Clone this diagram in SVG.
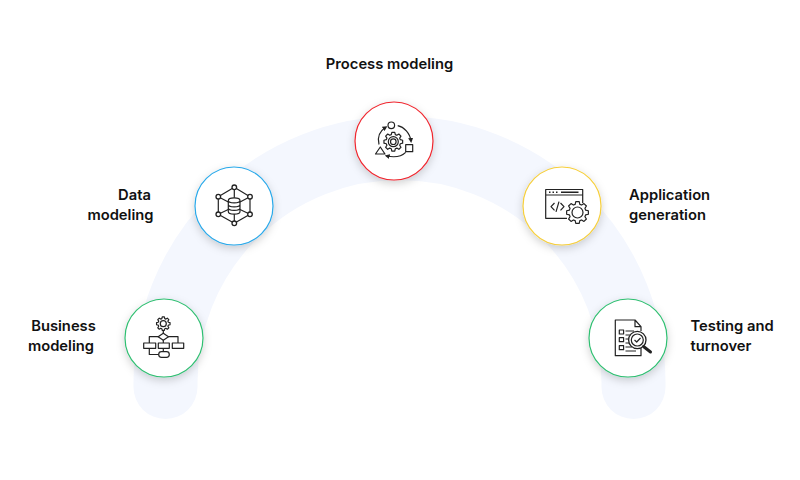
<svg xmlns="http://www.w3.org/2000/svg" width="800" height="480" viewBox="0 0 800 480">
<defs>
<filter id="sh" x="-30%" y="-30%" width="160%" height="170%"><feDropShadow dx="0" dy="3" stdDeviation="4" flood-color="#000" flood-opacity="0.18"/></filter>
<marker id="ah" markerWidth="5" markerHeight="5" refX="3" refY="2.500" orient="auto" markerUnits="userSpaceOnUse"><path d="M0 0L5 2.500L0 5Z" fill="#222"/></marker>
<path id="gear" vector-effect="non-scaling-stroke" d="M8.170 -2.340L10.860 -1.720L10.860 1.720L8.170 2.340L7.430 4.120L8.900 6.470L6.470 8.900L4.120 7.430L2.340 8.170L1.720 10.860L-1.720 10.860L-2.340 8.170L-4.120 7.430L-6.470 8.900L-8.900 6.470L-7.430 4.120L-8.170 2.340L-10.860 1.720L-10.860 -1.720L-8.170 -2.340L-7.430 -4.120L-8.900 -6.470L-6.470 -8.900L-4.120 -7.430L-2.340 -8.170L-1.720 -10.860L1.720 -10.860L2.340 -8.170L4.120 -7.430L6.470 -8.900L8.900 -6.470L7.430 -4.120Z"/>
</defs>
<style>
.lb{font-family:"Inter","Liberation Sans",sans-serif;font-size:14.75px;font-weight:600;fill:#111}
.d{fill:#fff;stroke-width:1.2;filter:url(#sh)}
.i{fill:none;stroke:#222;stroke-width:1.2;stroke-linejoin:round}
.w{fill:#fff;stroke:#222;stroke-width:1.3}
</style>
<rect width="800" height="480" fill="#fff"/>
<g id="connectors"><path d="M165.500 387V382A234 234 0 0 1 633.500 382V387" fill="none" stroke="#f4f7fe" stroke-width="64" stroke-linecap="round"/></g>

<g id="business-modeling">
<circle class="d" cx="164" cy="338" r="39" stroke="#2fbf71"/>
<g class="i">
<use href="#gear" transform="translate(163.300 323.700) scale(0.62)"/><circle cx="163.300" cy="323.700" r="3"/>
<path d="M163.300 330.500V333.500M149.300 343V336.700H178V343M163.300 340V343M163.300 348.300V351.700M149.300 348.300V354.500H158.700"/>
<path d="M163.300 333.200L168.500 336.700L163.300 340.200L158.100 336.700Z" fill="#fff"/>
<rect x="143.700" y="343" width="12" height="5.300"/><rect x="158.300" y="343" width="11" height="5.300"/><rect x="172.300" y="343" width="11.400" height="5.300"/>
<rect x="158.700" y="351.700" width="10.600" height="5.600" rx="2.800"/>
</g>
<text class="lb" x="63.500" y="330.500" text-anchor="middle">Business</text><text class="lb" x="61" y="350.500" text-anchor="middle">modeling</text>
</g>

<g id="data-modeling">
<circle class="d" cx="234" cy="206" r="39" stroke="#29a9ea"/>
<g class="i">
<path d="M234.300 187.300L250 196.700V214.300L234.300 223.300L218.300 214.300V196.700ZM234.300 187.300V198M218.300 196.700L228.300 202M250 196.700L240 202M218.300 214.300L228.300 209.500M250 214.300L240 209.500M234.300 223.300V213"/>
<circle class="w" cx="234.300" cy="187.300" r="2.300"/><circle class="w" cx="250" cy="196.700" r="2.300"/><circle class="w" cx="250" cy="214.300" r="2.300"/><circle class="w" cx="234.300" cy="223.300" r="2.300"/><circle class="w" cx="218.300" cy="214.300" r="2.300"/><circle class="w" cx="218.300" cy="196.700" r="2.300"/>
<path d="M228.300 200.500C228.300 196.900 240 196.900 240 200.500V211.500C240 215 228.300 215 228.300 211.500ZM228.300 200.500C228.300 203.700 240 203.700 240 200.500M228.300 204.500C228.300 207.700 240 207.700 240 204.500M228.300 208C228.300 211.200 240 211.200 240 208" fill="#fff"/>
</g>
<text class="lb" x="134.500" y="200" text-anchor="middle">Data</text><text class="lb" x="120.500" y="220" text-anchor="middle">modeling</text>
</g>

<g id="process-modeling">
<circle class="d" cx="394" cy="141" r="39" stroke="#f0262e"/>
<g class="i">
<circle cx="391.300" cy="125.300" r="3.300"/>
<rect x="405.700" y="144.700" width="7" height="7"/>
<path d="M380.300 147L385 154H375.500Z"/>
<use href="#gear" transform="translate(393.300 141.700) scale(0.86)"/><circle cx="393.300" cy="141.700" r="5"/><circle cx="393.300" cy="141.700" r="2.800"/>
<path d="M397.700 125.700C404 127 410 133 411 141" marker-end="url(#ah)"/>
<path d="M379 144.500C377 137 380 131 385.700 127.300" marker-end="url(#ah)"/>
<path d="M405.700 152.300C401 157 394 157.500 386.700 156" marker-end="url(#ah)"/>
</g>
<text class="lb" x="389.500" y="68.500" text-anchor="middle">Process modeling</text>
</g>

<g id="application-generation">
<circle class="d" cx="562" cy="206" r="39" stroke="#f7cf3b"/>
<g class="i">
<path d="M567 218.300H545.700V189.500H582.700V203M545.700 195H582.700"/>
<path d="M549 192.300H550.500M552.500 192.300H554M556 192.300H557.500M561 192.300H578.500" stroke-width="1.400"/>
<path d="M554.500 203L551 206.700L554.500 210.400M556 211.800L559 201.700M560.500 203L564 206.700L560.500 210.400"/>
<use href="#gear" transform="translate(577.500 212.500)" fill="#fff"/><circle cx="577.500" cy="212.500" r="5.500"/>
</g>
<text class="lb" x="629" y="200">Application</text><text class="lb" x="629" y="220">generation</text>
</g>

<g id="testing-and-turnover">
<circle class="d" cx="628" cy="338" r="39" stroke="#2fbf71"/>
<g class="i">
<path d="M641 347V355.700H615.300V320H635L641 326.700V331M635 320V326.700H641"/>
<rect x="619.300" y="330" width="4.300" height="4"/><rect x="619.300" y="337.700" width="4.300" height="4"/><rect x="619.300" y="345.700" width="4.300" height="4"/>
<path d="M625.500 331H634M625.500 335H632M625.500 339H629M625.500 343H629M625.500 347H632M625.500 351H636"/>
<circle class="w" cx="637.300" cy="340" r="8.700"/><circle cx="637.300" cy="340" r="6"/>
<path d="M634.500 340L636.700 342L640.500 338"/>
<path d="M643.500 346.500L650.500 352" stroke-width="3" stroke-linecap="round"/>
</g>
<text class="lb" x="690.500" y="330.500">Testing and</text><text class="lb" x="690.500" y="350.500">turnover</text>
</g>
</svg>
